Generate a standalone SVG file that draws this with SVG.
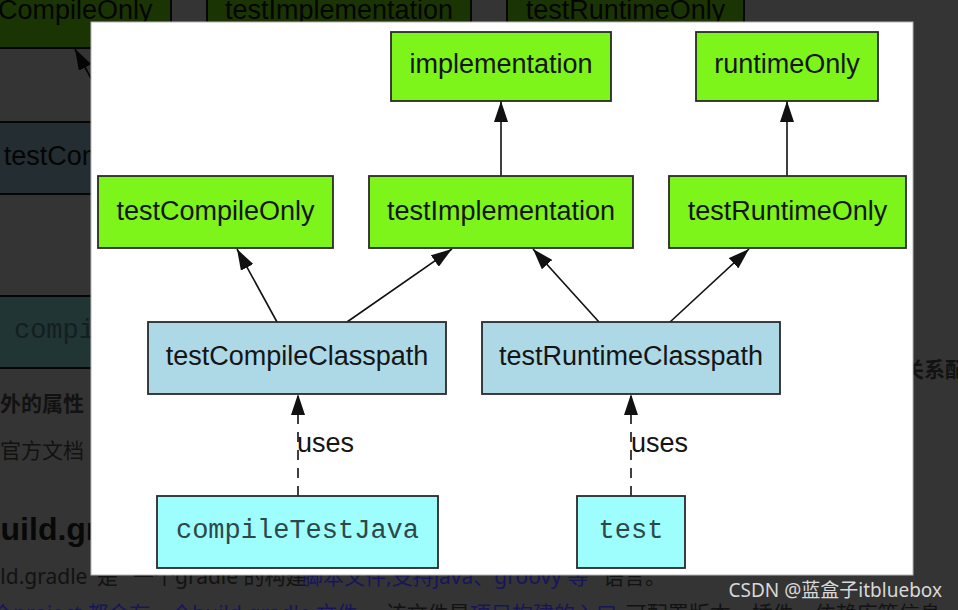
<svg xmlns="http://www.w3.org/2000/svg" width="958" height="610" viewBox="0 0 958 610">
<defs>
<marker id="arr" markerUnits="userSpaceOnUse" markerWidth="21" markerHeight="14" viewBox="0 0 21 14" refX="21" refY="7" orient="auto">
<path d="M0,0 L21,7 L0,14 z" fill="#111"/>
</marker>
<marker id="bgarr" markerUnits="userSpaceOnUse" markerWidth="21" markerHeight="14" viewBox="0 0 21 14" refX="21" refY="7" orient="auto">
<path d="M0,0 L21,7 L0,14 z" fill="#050505"/>
</marker>
<style>
.lbl{font-family:"Liberation Sans",Arial,sans-serif;font-size:27px;fill:#151515;text-anchor:middle}
.mono{font-family:"Liberation Mono","Courier New",monospace;font-size:27px;fill:#2e4848;text-anchor:middle}
.green{fill:#7df41a;stroke:#2a2a2a;stroke-width:1.8}
.blue{fill:#add8e6;stroke:#2a2a2a;stroke-width:1.8}
.cyan{fill:#9efdfd;stroke:#2a2a2a;stroke-width:1.8}
.edge{stroke:#111;stroke-width:1.6;fill:none;marker-end:url(#arr)}
.dash{stroke-dasharray:10 8}
.bgg{fill:#1b3404;stroke:#060606;stroke-width:2}
.bgb{fill:#242d31;stroke:#060606;stroke-width:2}
.bgc{fill:#213535;stroke:#060606;stroke-width:2}
.bgl{font-family:"Liberation Sans",Arial,sans-serif;font-size:27px;fill:#050505;text-anchor:middle}
.bgm{font-family:"Liberation Mono","Courier New",monospace;font-size:27px;fill:#141f1f;text-anchor:middle}
.page{font-family:"Noto Sans","Noto Sans CJK SC",sans-serif;font-size:21px;fill:#121212}
.link{fill:#16165a}
</style>
</defs>

<!-- dimmed page background -->
<rect x="0" y="0" width="958" height="610" fill="#343434"/>
<g id="background">
  <g id="bg-testCompileOnly"><rect class="bgg" x="-64" y="-24" width="235" height="72"/><text class="bgl" x="53.5" y="19">testCompileOnly</text></g>
  <g id="bg-testImplementation"><rect class="bgg" x="207" y="-24" width="264" height="72"/><text class="bgl" x="339" y="19">testImplementation</text></g>
  <g id="bg-testRuntimeOnly"><rect class="bgg" x="507" y="-24" width="237" height="72"/><text class="bgl" x="625.5" y="19">testRuntimeOnly</text></g>
  <g id="bg-testCompileClasspath"><rect class="bgb" x="-14" y="122" width="298" height="72"/><text class="bgl" x="135" y="165">testCompileClasspath</text></g>
  <g id="bg-compileTestJava"><rect class="bgc" x="-5" y="296" width="281" height="72"/><text class="bgm" x="135.5" y="338">compileTestJava</text></g>
  <line x1="115" y1="122" x2="75" y2="49" stroke="#050505" stroke-width="1.6" marker-end="url(#bgarr)"/>
  <text class="page" x="0" y="411" font-size="22" font-weight="bold" fill="#080808">外的属性</text>
  <text class="page" x="903" y="377" font-size="22" font-weight="bold" fill="#080808">关系配置</text>
  <text class="page" x="0" y="458" font-size="22">官方文档</text>
  <text x="-19" y="540" font-family="'Liberation Sans',Arial,sans-serif" font-size="32" font-weight="bold" fill="#080808">build.gradle</text>
  <text class="page" y="584"><tspan x="-31">build.gradle</tspan><tspan x="97">是</tspan><tspan x="133">一个gradle 的构建</tspan><tspan class="link" x="302">脚本文件,支持java、groovy 等</tspan><tspan x="603">语言。</tspan></text>
  <text class="page" y="621"><tspan class="link" x="-8">个project 都会有一个build.gradle 文件</tspan><tspan x="380">,该文件是</tspan><tspan class="link" x="470">项目构建的入口</tspan><tspan x="620">,可配置版本、插件、依赖库等信息</tspan></text>
</g>

<!-- white panel -->
<rect x="91" y="22" width="822" height="553" fill="#ffffff" stroke="#b5b5b5" stroke-width="1"/>

<g id="edges">
  <line class="edge" x1="501" y1="176" x2="501" y2="101"/>
  <line class="edge" x1="787" y1="176" x2="787" y2="101"/>
  <line class="edge" x1="277" y1="322" x2="237" y2="249"/>
  <line class="edge" x1="347" y1="322" x2="452" y2="249"/>
  <line class="edge" x1="599" y1="322" x2="533" y2="249"/>
  <line class="edge" x1="670" y1="322" x2="749" y2="249"/>
  <line class="edge dash" x1="298" y1="496" x2="298" y2="394"/>
  <line class="edge dash" x1="631" y1="496" x2="631" y2="394"/>
  <text class="lbl" x="297" y="452" style="text-anchor:start">uses</text>
  <text class="lbl" x="631" y="452" style="text-anchor:start">uses</text>
</g>

<g id="implementation"><rect class="green" x="391" y="32" width="220" height="69"/><text class="lbl" x="501" y="73">implementation</text></g>
<g id="runtimeOnly"><rect class="green" x="696" y="32" width="182" height="69"/><text class="lbl" x="787" y="73">runtimeOnly</text></g>
<g id="testCompileOnly"><rect class="green" x="98" y="176" width="235" height="72"/><text class="lbl" x="215.5" y="220">testCompileOnly</text></g>
<g id="testImplementation"><rect class="green" x="369" y="176" width="264" height="72"/><text class="lbl" x="501" y="220">testImplementation</text></g>
<g id="testRuntimeOnly"><rect class="green" x="669" y="176" width="237" height="72"/><text class="lbl" x="787.5" y="220">testRuntimeOnly</text></g>
<g id="testCompileClasspath"><rect class="blue" x="148" y="322" width="298" height="72"/><text class="lbl" x="297" y="365">testCompileClasspath</text></g>
<g id="testRuntimeClasspath"><rect class="blue" x="482" y="322" width="298" height="72"/><text class="lbl" x="631" y="365">testRuntimeClasspath</text></g>
<g id="compileTestJava"><rect class="cyan" x="157" y="496" width="281" height="72"/><text class="mono" x="297.5" y="538">compileTestJava</text></g>
<g id="test"><rect class="cyan" x="577" y="496" width="108" height="72"/><text class="mono" x="631" y="538">test</text></g>

<text x="942" y="597" text-anchor="end" font-family="'Noto Sans','Noto Sans CJK SC',sans-serif" font-size="19" fill="#d8d8d8">CSDN @蓝盒子itbluebox</text>
</svg>
